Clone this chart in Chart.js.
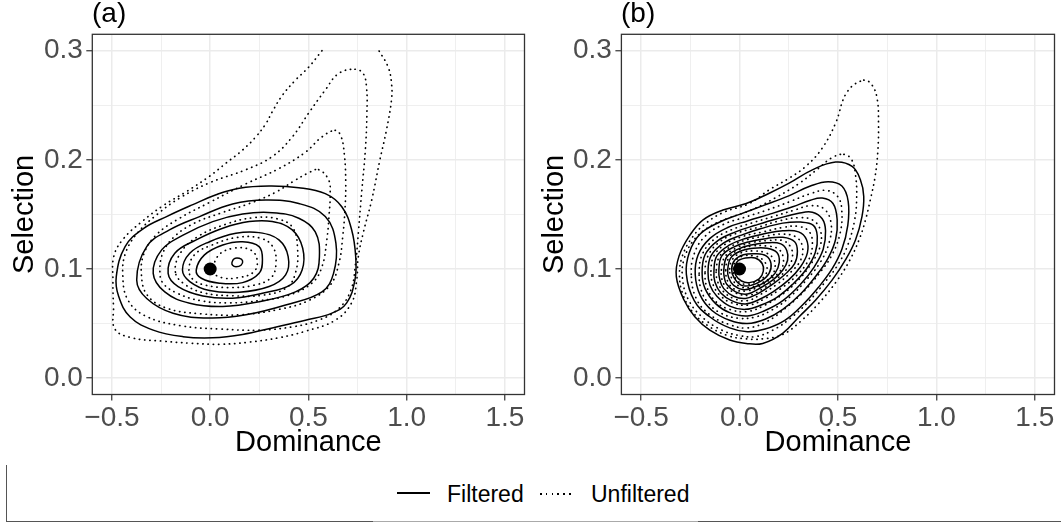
<!DOCTYPE html>
<html>
<head>
<meta charset="utf-8">
<script src="https://cdn.jsdelivr.net/npm/chart.js@4.4.1/dist/chart.umd.min.js"></script>
<style>
  body { margin: 0; background: #fff; width: 1061px; height: 525px; position: relative; overflow: hidden;
         font-family: "Liberation Sans", Arial, Helvetica, sans-serif; }
  canvas { position: absolute; top: 0; }
  #chartA { left: 0; }
  #chartB { left: 530px; }
  .tag { position: absolute; top: -1px; font-size: 28px; line-height: 28px; color: #000; }
  .lab { position: absolute; top: 483px; font-size: 23px; line-height: 23px; color: #000; white-space: nowrap; }
  .key { position: absolute; height: 1.5px; }
  .rule { position: absolute; }
</style>
</head>
<body>
<canvas id="chartA" width="531" height="464"></canvas>
<canvas id="chartB" width="531" height="464"></canvas>
<div class="tag" id="tagA" style="left:92px"></div>
<div class="tag" id="tagB" style="left:621px"></div>

<div class="key" style="left:397px; top:492px; width:33px; background:#000"></div>
<div class="lab" id="lab0" style="left:447px"></div>
<div class="key" style="left:540px; top:493px; width:35px; background:repeating-linear-gradient(to right, #000 0 1.6px, transparent 1.6px 5.8px)"></div>
<div class="lab" id="lab1" style="left:591px"></div>

<div class="rule" style="left:6px; top:465px; width:1.3px; height:57px; background:#555"></div>
<div class="rule" style="left:6px; top:521px; width:367px; height:1.3px; background:#555"></div>
<div class="rule" style="left:373px; top:521px; width:325px; height:1.3px; background:#aaa"></div>
<div class="rule" style="left:698px; top:521px; width:363px; height:1.3px; background:#555"></div>

<script>
'use strict';

// axes
let xTickValues = [-0.5, 0, 0.5, 1, 1.5];
let xTickLabels = ['\u22120.5', '0.0', '0.5', '1.0', '1.5'];
let xMinorValues = [-0.25, 0.25, 0.75, 1.25];
let yTickValues = [0, 0.1, 0.2, 0.3];
let yTickLabels = ['0.0', '0.1', '0.2', '0.3'];
let yMinorValues = [0.05, 0.15, 0.25];

let seriesNames = ['Filtered', 'Unfiltered'];
let panelTags = ['(a)', '(b)'];
let truePoint = [0, 0.1];

// panel (a) filtered contours, outside to inside
let aFilt1 = [[-0.478,0.093],[-0.433,0.1205],[-0.34,0.137],[-0.222,0.148],[-0.088,0.159],[0.03,0.168],[0.148,0.174],[0.3,0.176],[0.451,0.1745],[0.586,0.169],[0.67,0.157],[0.72,0.136],[0.741,0.111],[0.737,0.09],[0.695,0.069],[0.62,0.0595],[0.485,0.053],[0.316,0.046],[0.165,0.04],[0.013,0.037],[-0.138,0.038],[-0.29,0.044],[-0.407,0.056],[-0.466,0.075]];
let aFilt2 = [[-0.374,0.09],[-0.323,0.1205],[-0.205,0.136],[-0.054,0.148],[0.114,0.1596],[0.283,0.1632],[0.451,0.16],[0.586,0.148],[0.64,0.1236],[0.628,0.096],[0.569,0.079],[0.384,0.067],[0.182,0.058],[-0.003,0.055],[-0.189,0.0595],[-0.323,0.073]];
let aFilt3 = [[-0.29,0.096],[-0.247,0.1175],[-0.138,0.131],[0.013,0.1434],[0.165,0.1504],[0.316,0.1516],[0.451,0.1465],[0.535,0.134],[0.556,0.111],[0.527,0.0915],[0.434,0.079],[0.249,0.07],[0.064,0.0656],[-0.104,0.0686],[-0.231,0.079]];
let aFilt4 = [[-0.214,0.096],[-0.18,0.1144],[-0.071,0.1266],[0.064,0.1373],[0.199,0.1434],[0.316,0.1434],[0.418,0.1358],[0.471,0.119],[0.468,0.099],[0.409,0.0854],[0.266,0.0778],[0.114,0.0732],[-0.037,0.0753],[-0.163,0.0839]];
let aFilt5 = [[-0.141,0.099],[-0.104,0.1144],[-0.003,0.125],[0.131,0.1327],[0.249,0.1333],[0.35,0.1266],[0.397,0.1114],[0.384,0.0946],[0.3,0.0839],[0.148,0.0787],[-0.003,0.0802],[-0.104,0.0885]];
let aFilt6 = [[-0.071,0.099],[-0.029,0.1129],[0.064,0.122],[0.165,0.125],[0.249,0.1205],[0.266,0.1083],[0.249,0.096],[0.165,0.0875],[0.047,0.087],[-0.045,0.0915]];
let aFilt7 = [[0.111,0.106],[0.123,0.1095],[0.148,0.1098],[0.165,0.1074],[0.157,0.1034],[0.131,0.102],[0.114,0.1034]];

// panel (a) unfiltered contours; the outer one is cut by the grid edge
let aUnfOuter = [[0.569,0.3],[0.502,0.285],[0.434,0.273],[0.367,0.259],[0.316,0.244],[0.283,0.233],[0.232,0.221],[0.165,0.209],[0.081,0.197],[-0.003,0.185],[-0.12,0.171],[-0.24,0.158],[-0.35,0.143],[-0.44,0.128],[-0.49,0.112],[-0.495,0.09],[-0.492,0.065],[-0.485,0.045],[-0.4,0.037],[-0.25,0.034],[-0.1,0.032],[0.05,0.031],[0.2,0.033],[0.35,0.037],[0.485,0.043],[0.636,0.053],[0.72,0.069],[0.746,0.09],[0.754,0.111],[0.779,0.133],[0.822,0.163],[0.864,0.2],[0.897,0.227],[0.923,0.255],[0.923,0.27],[0.906,0.285],[0.859,0.3]];
let aUnf2 = [[0.737,0.283],[0.779,0.279],[0.796,0.266],[0.798,0.243],[0.79,0.209],[0.772,0.172],[0.755,0.135],[0.74,0.105],[0.715,0.08],[0.65,0.063],[0.55,0.053],[0.42,0.047],[0.25,0.044],[0.05,0.045],[-0.15,0.048],[-0.33,0.057],[-0.42,0.072],[-0.445,0.095],[-0.43,0.115],[-0.37,0.133],[-0.27,0.15],[-0.155,0.165],[-0.003,0.179],[0.182,0.191],[0.316,0.203],[0.418,0.221],[0.502,0.243],[0.586,0.264],[0.653,0.279]];
let aUnf3 = [[0.636,0.227],[0.665,0.222],[0.683,0.205],[0.69,0.18],[0.687,0.157],[0.675,0.13],[0.655,0.105],[0.61,0.085],[0.5,0.071],[0.35,0.063],[0.15,0.058],[-0.05,0.059],[-0.22,0.064],[-0.32,0.076],[-0.35,0.095],[-0.335,0.115],[-0.27,0.132],[-0.16,0.146],[-0.003,0.161],[0.182,0.178],[0.35,0.192],[0.485,0.207],[0.569,0.221]];
let aUnf4 = [[0.552,0.191],[0.603,0.1816],[0.611,0.169],[0.606,0.151],[0.594,0.127],[0.569,0.102],[0.518,0.087],[0.4,0.076],[0.25,0.071],[0.1,0.069],[-0.05,0.071],[-0.17,0.078],[-0.24,0.087],[-0.256,0.098],[-0.24,0.115],[-0.18,0.13],[-0.08,0.142],[0.05,0.151],[0.2,0.16],[0.33,0.17],[0.43,0.181],[0.5,0.188]];
let aUnf5 = [[-0.177,0.097],[-0.15,0.115],[-0.06,0.13],[0.08,0.141],[0.22,0.147],[0.34,0.146],[0.42,0.138],[0.445,0.118],[0.435,0.097],[0.39,0.083],[0.27,0.076],[0.11,0.0755],[-0.03,0.078],[-0.13,0.086]];
let aUnf6 = [[-0.108,0.099],[-0.08,0.113],[0.01,0.122],[0.14,0.129],[0.26,0.128],[0.32,0.12],[0.335,0.105],[0.31,0.092],[0.22,0.085],[0.09,0.083],[-0.02,0.085],[-0.085,0.09]];
let aUnf7 = [[0.02,0.097],[0.04,0.112],[0.12,0.119],[0.21,0.117],[0.24,0.107],[0.22,0.097],[0.14,0.092],[0.06,0.092]];

// panel (b) filtered contours
let bFilt1 = [[-0.321,0.093],[-0.307,0.112],[-0.252,0.131],[-0.185,0.145],[-0.084,0.154],[0.034,0.16],[0.151,0.1694],[0.252,0.1786],[0.37,0.1908],[0.488,0.1979],[0.572,0.1939],[0.614,0.1817],[0.631,0.1664],[0.622,0.148],[0.589,0.1266],[0.538,0.1083],[0.471,0.09],[0.387,0.0716],[0.303,0.0563],[0.219,0.041],[0.118,0.0318],[0.034,0.0318],[-0.05,0.0349],[-0.151,0.044],[-0.227,0.0563],[-0.282,0.0716]];
let bFilt2 = [[-0.27,0.095],[-0.255,0.115],[-0.2,0.132],[-0.1,0.143],[0,0.15],[0.12,0.158],[0.25,0.167],[0.36,0.176],[0.45,0.18],[0.52,0.176],[0.552,0.162],[0.55,0.14],[0.52,0.118],[0.47,0.1],[0.4,0.083],[0.32,0.067],[0.23,0.053],[0.13,0.045],[0.04,0.0425],[-0.05,0.046],[-0.15,0.056],[-0.23,0.071]];
let bFilt3 = [[-0.225,0.095],[-0.21,0.113],[-0.15,0.128],[-0.06,0.138],[0.04,0.144],[0.15,0.15],[0.27,0.157],[0.36,0.163],[0.42,0.165],[0.475,0.16],[0.496,0.145],[0.488,0.127],[0.45,0.11],[0.39,0.094],[0.31,0.077],[0.22,0.063],[0.13,0.054],[0.04,0.05],[-0.05,0.053],[-0.14,0.062],[-0.2,0.076]];
let bFilt4 = [[-0.19,0.096],[-0.175,0.113],[-0.11,0.126],[-0.02,0.134],[0.08,0.14],[0.19,0.146],[0.3,0.151],[0.37,0.152],[0.42,0.146],[0.437,0.135],[0.425,0.118],[0.38,0.102],[0.31,0.086],[0.22,0.071],[0.13,0.062],[0.04,0.057],[-0.05,0.06],[-0.12,0.068],[-0.175,0.082]];
let bFilt5 = [[-0.16,0.097],[-0.145,0.112],[-0.08,0.124],[0.01,0.131],[0.11,0.137],[0.22,0.142],[0.31,0.143],[0.375,0.14],[0.395,0.13],[0.385,0.115],[0.34,0.1],[0.27,0.086],[0.19,0.074],[0.11,0.067],[0.03,0.063],[-0.05,0.066],[-0.115,0.075],[-0.15,0.085]];
let bFilt6 = [[-0.13,0.098],[-0.115,0.112],[-0.05,0.122],[0.03,0.128],[0.12,0.132],[0.22,0.135],[0.3,0.134],[0.34,0.127],[0.345,0.115],[0.31,0.102],[0.25,0.09],[0.17,0.079],[0.1,0.072],[0.03,0.068],[-0.04,0.071],[-0.095,0.078],[-0.125,0.088]];
let bFilt7 = [[-0.105,0.099],[-0.09,0.112],[-0.03,0.12],[0.05,0.125],[0.14,0.128],[0.22,0.129],[0.28,0.125],[0.294,0.116],[0.28,0.105],[0.23,0.095],[0.16,0.085],[0.09,0.077],[0.03,0.073],[-0.03,0.075],[-0.08,0.082],[-0.1,0.09]];
let bFilt8 = [[-0.08,0.099],[-0.065,0.111],[-0.01,0.118],[0.06,0.122],[0.14,0.124],[0.21,0.123],[0.24,0.117],[0.244,0.108],[0.22,0.099],[0.17,0.09],[0.1,0.082],[0.04,0.077],[-0.02,0.079],[-0.065,0.086],[-0.078,0.093]];
let bFilt9 = [[-0.06,0.099],[-0.045,0.11],[0,0.116],[0.07,0.119],[0.14,0.119],[0.19,0.115],[0.202,0.106],[0.18,0.096],[0.13,0.088],[0.07,0.083],[0.02,0.081],[-0.03,0.085],[-0.055,0.092]];
let bFilt10 = [[-0.04,0.1],[-0.025,0.108],[0.02,0.113],[0.08,0.114],[0.135,0.112],[0.16,0.105],[0.15,0.096],[0.11,0.089],[0.06,0.085],[0.01,0.085],[-0.028,0.092]];
let bFilt11 = [[-0.025,0.1],[-0.01,0.107],[0.03,0.11],[0.08,0.11],[0.115,0.105],[0.121,0.098],[0.1,0.091],[0.05,0.0875],[0.01,0.089],[-0.018,0.094]];

// panel (b) unfiltered contours
let bUnf1 = [[0.631,0.273],[0.675,0.268],[0.7,0.255],[0.706,0.235],[0.703,0.209],[0.689,0.185],[0.664,0.163],[0.64,0.145],[0.61,0.128],[0.56,0.108],[0.49,0.088],[0.4,0.068],[0.31,0.052],[0.22,0.04],[0.12,0.036],[0.03,0.036],[-0.06,0.039],[-0.16,0.048],[-0.24,0.061],[-0.29,0.078],[-0.305,0.095],[-0.29,0.112],[-0.24,0.129],[-0.17,0.142],[-0.08,0.152],[0.05,0.16],[0.151,0.1725],[0.252,0.1832],[0.336,0.1939],[0.42,0.2107],[0.488,0.2336],[0.546,0.262]];
let bUnf2 = [[0.53,0.205],[0.57,0.2],[0.59,0.185],[0.595,0.165],[0.585,0.145],[0.55,0.122],[0.5,0.104],[0.43,0.087],[0.35,0.07],[0.26,0.055],[0.17,0.044],[0.08,0.038],[0,0.039],[-0.09,0.044],[-0.19,0.056],[-0.26,0.072],[-0.29,0.092],[-0.28,0.11],[-0.23,0.127],[-0.15,0.139],[-0.05,0.147],[0.06,0.154],[0.18,0.165],[0.3,0.178],[0.4,0.192],[0.47,0.202]];
let bUnf3 = [[-0.245,0.095],[-0.23,0.114],[-0.175,0.13],[-0.08,0.141],[0.02,0.147],[0.14,0.154],[0.26,0.162],[0.36,0.169],[0.44,0.172],[0.5,0.166],[0.52,0.152],[0.51,0.132],[0.47,0.113],[0.41,0.097],[0.33,0.08],[0.24,0.065],[0.14,0.052],[0.04,0.046],[-0.05,0.049],[-0.15,0.058],[-0.22,0.073]];
let bUnf4 = [[-0.205,0.096],[-0.19,0.113],[-0.13,0.127],[-0.04,0.136],[0.06,0.142],[0.17,0.148],[0.28,0.154],[0.36,0.158],[0.43,0.155],[0.465,0.142],[0.455,0.124],[0.41,0.106],[0.34,0.09],[0.26,0.075],[0.17,0.063],[0.08,0.056],[-0.01,0.055],[-0.1,0.06],[-0.16,0.069],[-0.195,0.081]];
let bUnf5 = [[-0.175,0.097],[-0.16,0.112],[-0.1,0.125],[-0.01,0.133],[0.09,0.138],[0.2,0.144],[0.3,0.147],[0.37,0.145],[0.41,0.136],[0.41,0.121],[0.365,0.105],[0.3,0.09],[0.22,0.077],[0.13,0.067],[0.04,0.061],[-0.05,0.063],[-0.12,0.07],[-0.165,0.083]];
let bUnf6 = [[-0.145,0.098],[-0.13,0.112],[-0.07,0.123],[0.02,0.13],[0.12,0.134],[0.22,0.138],[0.3,0.139],[0.355,0.134],[0.37,0.122],[0.35,0.108],[0.29,0.094],[0.21,0.082],[0.13,0.073],[0.05,0.067],[-0.04,0.069],[-0.1,0.076],[-0.135,0.086]];
let bUnf7 = [[-0.118,0.099],[-0.1,0.112],[-0.04,0.121],[0.04,0.127],[0.13,0.13],[0.22,0.132],[0.29,0.129],[0.32,0.12],[0.31,0.108],[0.26,0.097],[0.19,0.086],[0.11,0.077],[0.04,0.071],[-0.03,0.073],[-0.085,0.08],[-0.112,0.089]];
let bUnf8 = [[-0.092,0.099],[-0.075,0.111],[-0.02,0.119],[0.06,0.124],[0.14,0.126],[0.22,0.126],[0.26,0.12],[0.268,0.11],[0.24,0.1],[0.19,0.091],[0.12,0.082],[0.05,0.076],[-0.02,0.078],[-0.07,0.084],[-0.09,0.091]];
let bUnf9 = [[-0.07,0.099],[-0.055,0.11],[-0.01,0.117],[0.06,0.121],[0.14,0.121],[0.2,0.118],[0.223,0.109],[0.21,0.099],[0.16,0.091],[0.1,0.084],[0.04,0.08],[-0.02,0.081],[-0.058,0.088]];
let bUnf10 = [[-0.05,0.1],[-0.035,0.109],[0.01,0.115],[0.07,0.1165],[0.13,0.115],[0.17,0.11],[0.181,0.102],[0.16,0.093],[0.11,0.087],[0.05,0.083],[0,0.084],[-0.038,0.091]];
let bUnf11 = [[-0.032,0.1],[-0.018,0.108],[0.02,0.112],[0.07,0.112],[0.115,0.109],[0.14,0.101],[0.125,0.093],[0.08,0.088],[0.03,0.086],[-0.01,0.089],[-0.028,0.095]];

let aFiltered = [aFilt1, aFilt2, aFilt3, aFilt4, aFilt5, aFilt6, aFilt7];
let aUnfiltered = [aUnf2, aUnf3, aUnf4, aUnf5, aUnf6, aUnf7];
let bFiltered = [bFilt1, bFilt2, bFilt3, bFilt4, bFilt5, bFilt6, bFilt7, bFilt8, bFilt9, bFilt10, bFilt11];
let bUnfiltered = [bUnf1, bUnf2, bUnf3, bUnf4, bUnf5, bUnf6, bUnf7, bUnf8, bUnf9, bUnf10, bUnf11];

let fontFamily = '"Liberation Sans", Arial, Helvetica, sans-serif';

document.getElementById('tagA').textContent = panelTags[0];
document.getElementById('tagB').textContent = panelTags[1];
document.getElementById('lab0').textContent = seriesNames[0];
document.getElementById('lab1').textContent = seriesNames[1];

function isOneOf(v, list) {
    return list.findIndex(t => Math.abs(t - v) < 1e-9);
}

function lineSet(points, dotted, closed) {
    let n = points.length;
    // closed rings get one extra point on each side so the spline has no corner where it meets itself
    let ring = closed ? [points[n - 1]].concat(points, [points[0], points[1]]) : points;
    return {
        data: ring.map(p => ({ x: p[0], y: p[1] })),
        showLine: true,
        borderColor: '#000',
        borderWidth: dotted ? 1.7 : 1.5,
        borderDash: dotted ? [0.3, 5] : [],
        borderCapStyle: dotted ? 'round' : 'butt',
        pointRadius: 0,
        tension: 0.4,
        fill: false,
        segment: closed ? {
            borderColor: c => (c.p0DataIndex === 0 || c.p0DataIndex === n + 1) ? 'rgba(0,0,0,0)' : undefined
        } : undefined
    };
}

function buildSets(filtered, unfiltered, openOnes) {
    let sets = [];
    filtered.forEach(c => sets.push(lineSet(c, false, true)));
    unfiltered.forEach(c => sets.push(lineSet(c, true, true)));
    openOnes.forEach(c => sets.push(lineSet(c, true, false)));
    sets.push({
        data: [{ x: truePoint[0], y: truePoint[1] }],
        pointRadius: 6.5,
        pointBackgroundColor: '#000',
        pointBorderWidth: 0,
        showLine: false
    });
    return sets;
}

let framePlugin = {
    id: 'frame',
    afterDraw(chart) {
        let a = chart.chartArea;
        let ctx = chart.ctx;
        ctx.save();
        ctx.strokeStyle = '#333';
        ctx.lineWidth = 1.3;
        ctx.strokeRect(a.left, a.top, a.right - a.left, a.bottom - a.top);
        ctx.restore();
    }
};

function gridOpts(majors) {
    return {
        color: '#EBEBEB',
        lineWidth: ctx => isOneOf(ctx.tick.value, majors) >= 0 ? 1.5 : 0.8,
        tickLength: 6,
        tickWidth: 1.2,
        tickColor: ctx => isOneOf(ctx.tick.value, majors) >= 0 ? '#333' : 'rgba(0,0,0,0)'
    };
}

function makeChart(id, filtered, unfiltered, openOnes, yWidth, rightPad) {
    let ctx = document.getElementById(id).getContext('2d');
    return new Chart(ctx, {
        type: 'scatter',
        data: { datasets: buildSets(filtered, unfiltered, openOnes) },
        plugins: [framePlugin],
        options: {
            responsive: false,
            animation: false,
            layout: { padding: { top: 34.3, right: rightPad, bottom: 0, left: 0 } },
            plugins: { legend: { display: false }, tooltip: { enabled: false } },
            scales: {
                x: {
                    type: 'linear',
                    min: -0.6,
                    max: 1.6,
                    afterBuildTicks: s => { s.ticks = xTickValues.concat(xMinorValues).sort((p, q) => p - q).map(v => ({ value: v })); },
                    afterFit: s => { s.height = 69.5; },
                    grid: gridOpts(xTickValues),
                    border: { display: false },
                    ticks: {
                        autoSkip: false,
                        maxRotation: 0,
                        padding: 1,
                        color: '#4D4D4D',
                        font: { family: fontFamily, size: 28 },
                        callback: v => { let i = isOneOf(v, xTickValues); return i >= 0 ? xTickLabels[i] : ''; }
                    },
                    title: { display: true, text: 'Dominance', color: '#000', font: { family: fontFamily, size: 29 }, padding: { top: 4, bottom: 4 } }
                },
                y: {
                    type: 'linear',
                    min: -0.015,
                    max: 0.315,
                    afterBuildTicks: s => { s.ticks = yTickValues.concat(yMinorValues).sort((p, q) => p - q).map(v => ({ value: v })); },
                    afterFit: s => { s.width = yWidth; },
                    grid: gridOpts(yTickValues),
                    border: { display: false },
                    ticks: {
                        autoSkip: false,
                        padding: 3.5,
                        color: '#4D4D4D',
                        font: { family: fontFamily, size: 28 },
                        callback: v => { let i = isOneOf(v, yTickValues); return i >= 0 ? yTickLabels[i] : ''; }
                    },
                    title: { display: true, text: 'Selection', color: '#000', font: { family: fontFamily, size: 29 }, padding: { top: 8, bottom: 4 } }
                }
            }
        }
    });
}

makeChart('chartA', aFiltered, aUnfiltered, [aUnfOuter], 92.3, 2.6);
makeChart('chartB', bFiltered, bUnfiltered, [], 91.4, 4.4);
</script>
</body>
</html>
